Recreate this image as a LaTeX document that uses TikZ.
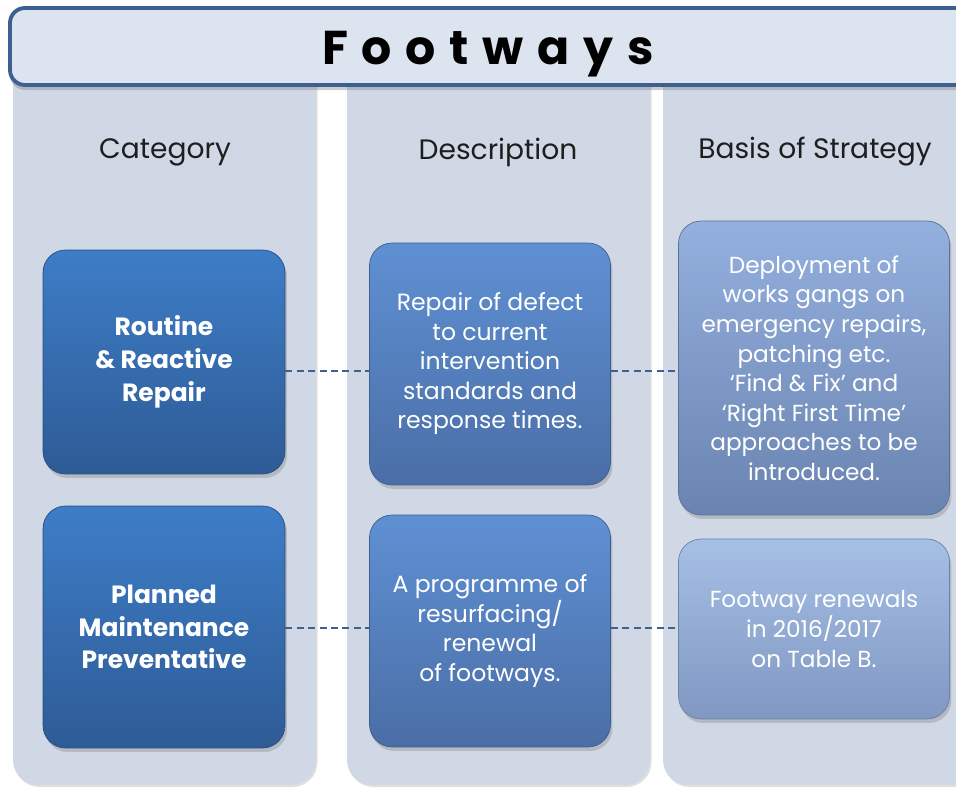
\documentclass[tikz,border=0pt]{standalone}
\usepackage{fontspec}
\setmainfont{Poppins}
\newfontfamily\titlefont[LetterSpace=29]{Poppins}
\usepackage{tikz}
\usetikzlibrary{positioning,shadows}

\definecolor{titlefill}{HTML}{DCE4F0}
\definecolor{titleline}{HTML}{3D6090}
\definecolor{colfill}{HTML}{D0D8E6}
\definecolor{cattop}{HTML}{3D7DC7}
\definecolor{catbot}{HTML}{2E5B96}
\definecolor{desctop}{HTML}{5F90D4}
\definecolor{descbot}{HTML}{4A6EA6}
\definecolor{basistop}{HTML}{94B0DE}
\definecolor{basisbot}{HTML}{6A84B1}
\definecolor{renewtop}{HTML}{A6BFE5}
\definecolor{renewbot}{HTML}{8098C2}
\definecolor{headtext}{HTML}{1E1E1E}

\begin{document}
\begin{tikzpicture}[x=0.02cm,y=-0.02cm,
	column/.style={fill=colfill,rounded corners=0.5cm,
		drop shadow={opacity=0.25,shadow xshift=0.03cm,shadow yshift=-0.04cm}},
	header/.style={text=headtext,font=\fontsize{16}{19}\selectfont},
	box/.style={rounded corners=0.45cm,align=center,text=white,inner sep=0pt,
		drop shadow={opacity=0.35,shadow xshift=0.04cm,shadow yshift=-0.08cm}},
	catbox/.style={box,top color=cattop,bottom color=catbot,draw=catbot!85!black,
		minimum width=4.84cm,font=\bfseries\fontsize{14.2}{18.7}\selectfont},
	descbox/.style={box,top color=desctop,bottom color=descbot,draw=descbot!85!black,
		minimum width=4.82cm,font=\fontsize{13.4}{16.8}\selectfont},
	basisbox/.style={box,top color=#1top,bottom color=#1bot,draw=#1bot!85!black,
		minimum width=5.42cm,font=\fontsize{13.2}{16.8}\selectfont},
	link/.style={draw=titleline,line width=1.1pt,dash pattern=on 4pt off 2.5pt}]
	\useasboundingbox (0,0) rectangle (956,788);
	\clip (0,0) rectangle (956,788);
	% three columns
	\path[column] (13,60) rectangle (316,785);
	\path[column] (347,60) rectangle (650,785);
	\path[column] (663,60) rectangle (1000,785);
	% title bar
	\draw[fill=titlefill,draw=titleline,line width=2.2pt,rounded corners=0.3cm,
		drop shadow={opacity=0.4,shadow xshift=0cm,shadow yshift=-0.1cm}]
		(10,8) rectangle (1000,85);
	\node (title) at (488,54) {\titlefont\bfseries\fontsize{27}{32}\selectfont Footways};
	% column headings
	\node[header] (hcat) at (165,152) {Category};
	\node[header] (hdesc) at (498,152) {Description};
	\node[header] (hbasis) at (815,152) {Basis of Strategy};
	% row markers for the dashed links
	\coordinate (row1) at (0,371);
	\coordinate (row2) at (0,628);
	% boxes
	\node[catbox,minimum height=4.48cm] (cat1) at (164,362) {Routine\\\& Reactive\\Repair};
	\node[catbox,minimum height=4.84cm] (cat2) at (164,627) {Planned\\Maintenance\\Preventative};
	\node[descbox,minimum height=4.84cm] (desc1) at (490,364)
		{Repair of defect\\to current\\intervention\\standards and\\response times.};
	\node[descbox,minimum height=4.64cm] (desc2) at (490,631)
		{A programme of\\resurfacing/\\renewal\\of footways.};
	\node[basisbox=basis,minimum height=5.88cm] (basis1) at (814,368)
		{Deployment of\\works gangs on\\emergency repairs,\\patching etc.\\
		`Find \& Fix' and\\`Right First Time'\\approaches to be\\introduced.};
	\node[basisbox=renew,minimum height=3.6cm] (basis2) at (814,629)
		{Footway renewals\\in 2016/2017\\on Table B.};
	% dashed links
	\draw[link] (cat1.east |- row1) -- (desc1.west |- row1);
	\draw[link] (desc1.east |- row1) -- (basis1.west |- row1);
	\draw[link] (cat2.east |- row2) -- (desc2.west |- row2);
	\draw[link] (desc2.east |- row2) -- (basis2.west |- row2);
\end{tikzpicture}
\end{document}
